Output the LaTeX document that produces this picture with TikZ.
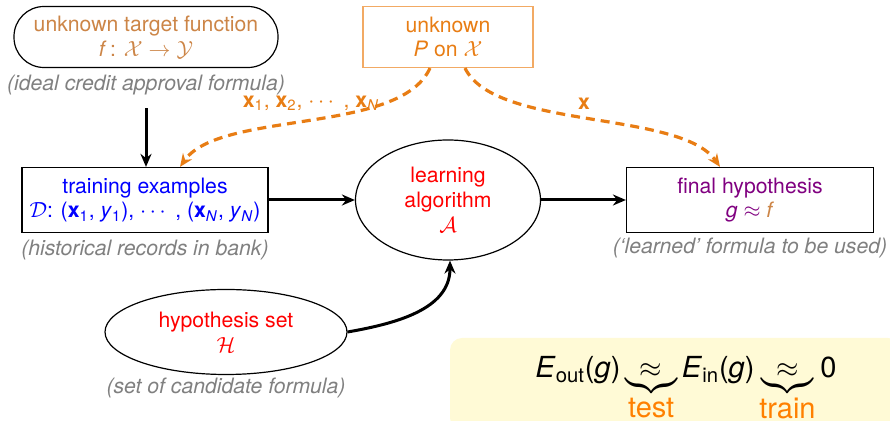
\documentclass[tikz,border=0pt]{standalone}
\usepackage{amsmath}
\usepackage{fontspec}
\setmainfont{TeX Gyre Heros}
\usetikzlibrary{arrows.meta,shapes.geometric}
\definecolor{tgtbrown}{RGB}{204,133,71}
\definecolor{distorange}{RGB}{232,125,20}
\definecolor{distframe}{RGB}{242,170,100}
\definecolor{notegray}{RGB}{128,128,128}
\definecolor{hypopurple}{RGB}{128,0,128}
\definecolor{boxyellow}{RGB}{255,250,214}
\definecolor{lblorange}{RGB}{255,128,0}
\newcommand{\xb}[1]{\textbf{x}\textsubscript{#1}}
\begin{document}
\begin{tikzpicture}[x=0.5pt,y=-0.5pt,
    font=\fontsize{10.6}{12.4}\selectfont,
    tbox/.style={draw,line width=0.6pt,align=center,inner sep=1pt},
    oval/.style={draw,ellipse,line width=0.6pt,align=center,inner sep=0pt},
    note/.style={notegray,font=\fontsize{10.6}{12.4}\selectfont\itshape},
    arr/.style={-{Stealth[length=6.5pt,width=5.5pt]},line width=1.5pt},
    darr/.style={-{Stealth[length=6.5pt,width=5.5pt]},distorange,line width=1.6pt,dash pattern=on 4.5pt off 3pt}]
    \useasboundingbox (0,0) rectangle (890,421);
    \fill[boxyellow,rounded corners=6pt] (450,338) rectangle (900,430);
    \node[tbox,rounded corners=15pt,minimum width=132pt,minimum height=30.5pt,text=tgtbrown] (target) at (146,37)
      {unknown target function\\\textit{f}\,: $\mathcal{X}\to\mathcal{Y}$};
    \node[note] (targetnote) at (146,85) {(ideal credit approval formula)};
    \node[tbox,draw=distframe,minimum width=85pt,minimum height=30.5pt,text=distorange] (dist) at (448,37)
      {unknown\\\textit{P} on $\mathcal{X}$};
    \node[tbox,minimum width=123pt,minimum height=32.5pt,text=blue] (train) at (145,200)
      {training examples\\$\mathcal{D}$: (\xb{1}, \textit{y}\textsubscript{1}), $\cdots$ , (\xb{\textit{N}}, \textit{y}\textsubscript{\textit{N}})};
    \node[note] (trainnote) at (145,250) {(historical records in bank)};
    \node[oval,minimum width=92.5pt,minimum height=60pt,text=red] (learn) at (448,200)
      {learning\\algorithm\\$\mathcal{A}$};
    \node[tbox,minimum width=123.5pt,minimum height=32.5pt,text=hypopurple] (final) at (750,200)
      {final hypothesis\\\textit{g} $\approx$ {\color{tgtbrown}\textit{f}}};
    \node[note] (finalnote) at (750,248) {(`learned' formula to be used)};
    \node[oval,minimum width=121pt,minimum height=42.5pt,text=red] (hyp) at (226,332)
      {hypothesis set\\$\mathcal{H}$};
    \node[note] (hypnote) at (226,388) {(set of candidate formula)};
    \node[font=\fontsize{14.5}{17}\selectfont,anchor=base] (bound) at (686,378)
      {\textit{E}\textsubscript{out}(\textit{g})\,$\underbrace{\;\approx\;}_{\mbox{\color{lblorange}test}}$\,\textit{E}\textsubscript{in}(\textit{g})\,$\underbrace{\;\approx\;}_{\mbox{\color{lblorange}train}}$\,0};
    \draw[arr] ([yshift=-3pt]targetnote.south) -- (train.north -| targetnote.south);
    \draw[arr] (train) -- (learn);
    \draw[arr] (learn) -- (final);
    \draw[arr] (hyp.east) to[out=10,in=-90] ([xshift=1pt]learn.south);
    \draw[darr] ([xshift=-9pt]dist.south) .. controls (400,135) and (220,110) .. ([xshift=17.5pt]train.north);
    \draw[darr] ([xshift=8.5pt]dist.south) .. controls (495,130) and (680,110) .. ([xshift=-15pt]final.north);
    \node[distorange] (samples) at (311,103) {\xb{1}, \xb{2}, $\cdots$ , \xb{\textit{N}}};
    \node[distorange] (sample) at (584,104) {\textbf{x}};
\end{tikzpicture}
\end{document}
